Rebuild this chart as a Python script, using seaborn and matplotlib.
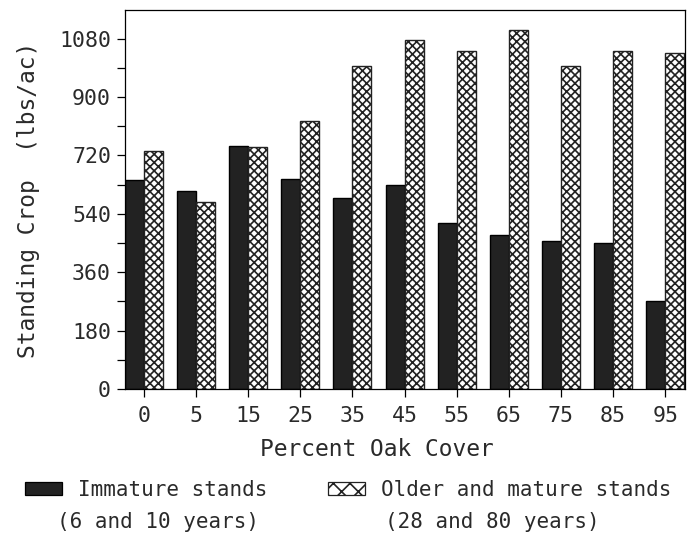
import matplotlib
matplotlib.use("Agg")
import matplotlib.pyplot as plt
import matplotlib.patches as mpatches
from matplotlib.ticker import MultipleLocator
import seaborn as sns
import pandas as pd

cover = ["0", "5", "15", "25", "35", "45", "55", "65", "75", "85", "95"]
immature = [643, 609, 749, 648, 589, 629, 512, 476, 455, 450, 270]
mature = [735, 577, 745, 826, 996, 1077, 1041, 1108, 997, 1043, 1036]
series = ["Immature stands", "Older and mature stands"]
sub_labels = ["(6 and 10 years)", "(28 and 80 years)"]
yticks = [0, 180, 360, 540, 720, 900, 1080]

df = pd.DataFrame({
    "cover": cover * 2,
    "value": immature + mature,
    "stand": [series[0]] * len(cover) + [series[1]] * len(cover),
})

sns.set_theme(style="white")
plt.rcParams["font.family"] = ["DejaVu Sans Mono"]
plt.rcParams["hatch.linewidth"] = 1.2

TXT = "#2a2a2a"
fig = plt.figure(figsize=(6.94, 5.35), dpi=100)
ax = fig.add_axes([0.180, 0.273, 0.807, 0.708])

sns.barplot(data=df, x="cover", y="value", hue="stand", order=cover,
            hue_order=series, palette=["#222222", "white"], width=0.73,
            edgecolor="black", linewidth=1.0, legend=False, ax=ax)

for p in ax.containers[1]:
    p.set_hatch("xxxx")
    p.set_facecolor("white")
    p.set_edgecolor("#222222")

ax.set_xlim(-0.365, 10.38)
ax.set_ylim(0, 1168)
ax.set_yticks(yticks)
ax.set_yticklabels([str(v) for v in yticks])
ax.yaxis.set_minor_locator(MultipleLocator(90))
ax.tick_params(axis="both", which="both", direction="out", length=6,
               width=0.9, color="black", labelsize=15.5, labelcolor=TXT)
ax.tick_params(axis="y", which="both", left=True, pad=4)
ax.tick_params(axis="x", bottom=True, pad=6)
for s in ax.spines.values():
    s.set_visible(True)
    s.set_color("black")
    s.set_linewidth(0.9)

ax.set_xlabel("Percent Oak Cover", fontsize=16.5, color=TXT, labelpad=12)
ax.xaxis.set_label_coords(0.45, -0.13)
ax.set_ylabel("Standing Crop  (lbs/ac)", fontsize=16.5, color=TXT, labelpad=14)

h1 = mpatches.Patch(facecolor="#222222", edgecolor="black", linewidth=0.9)
h2 = mpatches.Patch(facecolor="white", edgecolor="#222222", hatch="xx", linewidth=0.9)
fig.legend([h1, h2], series, loc="upper left", bbox_to_anchor=(0.036, 0.103),
           ncol=2, frameon=False, fontsize=15, handlelength=1.8, handleheight=0.6,
           handletextpad=0.75, columnspacing=2.9, borderaxespad=0, borderpad=0,
           labelcolor=TXT)
fig.text(0.082, 0.024, sub_labels[0], fontsize=15, color=TXT, va="center")
fig.text(0.555, 0.024, sub_labels[1], fontsize=15, color=TXT, va="center")

fig.savefig("out.png", dpi=100)
